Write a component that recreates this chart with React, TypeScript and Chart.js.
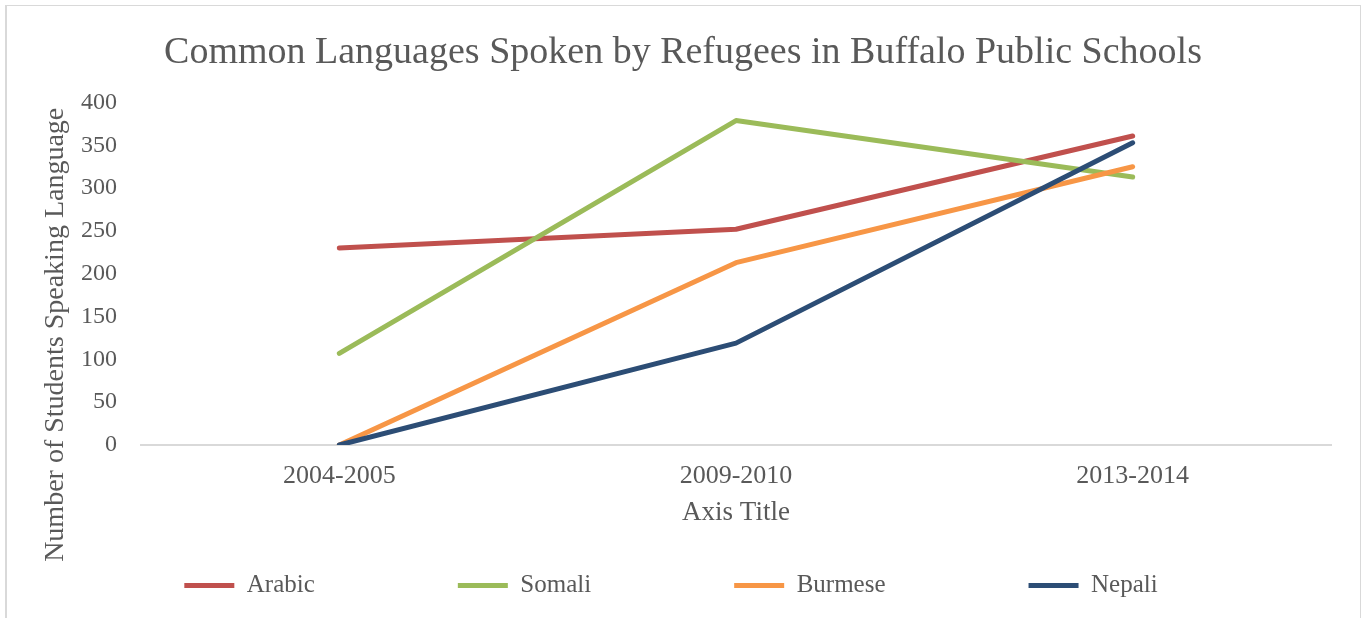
import React, { useEffect, useRef } from 'react';
import { Chart, registerables } from 'chart.js';

Chart.register(...registerables);

const categories = ['2004-2005', '2009-2010', '2013-2014'];
const arabic = [230, 252, 361];
const somali = [107, 379, 313];
const burmese = [0, 213, 325];
const nepali = [0, 119, 353];
const seriesNames = ['Arabic', 'Somali', 'Burmese', 'Nepali'];
const seriesValues = [arabic, somali, burmese, nepali];
const seriesColors = ['#C0504D', '#9BBB59', '#F79646', '#2C4D75'];
const yMin = 0;
const yMax = 400;
const yStep = 50;
const chartTitle = 'Common Languages Spoken by Refugees in Buffalo Public Schools';
const xTitle = 'Axis Title';
const yTitle = 'Number of Students Speaking Language';

const FONT = "'Liberation Serif', 'DejaVu Serif', serif";
const TEXT = '#595959';
const LEG_PAD = 143;
const LEG_H = 60;
const LEG_SHIFT = 128;
const Y_TITLE_EXTRA = 122;
const TITLE_DX = 14;

const layoutTweaks = {
  id: 'layoutTweaks',
  beforeLayout(chart: any) {
    const lg: any = chart.legend;
    if (lg && !lg.__patched) {
      lg.__patched = true;
      const fit = lg.fit.bind(lg);
      lg.fit = function () {
        fit();
        this.height = LEG_H;
      };
      const draw = lg.draw.bind(lg);
      lg.draw = function () {
        const t = this.top;
        const l = this.left;
        const r = this.right;
        this.top = t - LEG_SHIFT;
        this.left = l + 2;
        this.right = r + 2;
        draw();
        this.top = t;
        this.left = l;
        this.right = r;
      };
    }
    const tb: any = chart.titleBlock;
    if (tb && !tb.__patched) {
      tb.__patched = true;
      const draw = tb.draw.bind(tb);
      tb.draw = function () {
        const l = this.left;
        const r = this.right;
        this.left = l + TITLE_DX;
        this.right = r + TITLE_DX;
        draw();
        this.left = l;
        this.right = r;
      };
    }
  },
  afterLayout(chart: any) {
    const ys: any = chart.scales.y;
    if (ys && !ys.__patched) {
      ys.__patched = true;
      const dt = ys.drawTitle.bind(ys);
      ys.drawTitle = function () {
        const b = this.bottom;
        this.bottom = b + Y_TITLE_EXTRA;
        dt();
        this.bottom = b;
      };
    }
  },
};

export default function App() {
  const ref = useRef<HTMLCanvasElement | null>(null);

  useEffect(() => {
    if (!ref.current) return;
    const chart = new Chart(ref.current, {
      type: 'line',
      data: {
        labels: categories,
        datasets: seriesNames.map((name, i) => ({
          label: name,
          data: seriesValues[i],
          borderColor: seriesColors[i],
          backgroundColor: seriesColors[i],
          borderWidth: 5,
          borderCapStyle: 'round',
          borderJoinStyle: 'round',
          pointRadius: 0,
          pointHoverRadius: 0,
          tension: 0,
          fill: false,
          order: seriesNames.length - i,
        })),
      },
      options: {
        responsive: false,
        animation: false,
        layout: { padding: { left: 0, right: 29, top: 0, bottom: 0 } },
        plugins: {
          title: {
            display: true,
            text: chartTitle,
            color: TEXT,
            font: { family: FONT, size: 38, weight: 'normal' },
            padding: { top: 24, bottom: 27 },
          },
          legend: {
            display: true,
            position: 'bottom',
            labels: {
              color: TEXT,
              font: { family: FONT, size: 25 },
              usePointStyle: true,
              pointStyle: 'line',
              pointStyleWidth: 50,
              padding: LEG_PAD,
              sort: (a: any, b: any) => a.datasetIndex - b.datasetIndex,
            },
          },
          tooltip: { enabled: false },
        },
        scales: {
          x: {
            offset: true,
            grid: { display: false, drawTicks: false, offset: true },
            border: { display: true, color: '#d9d9d9', width: 2 },
            ticks: { color: TEXT, font: { family: FONT, size: 26 }, padding: 16 },
            title: {
              display: true,
              text: xTitle,
              color: TEXT,
              font: { family: FONT, size: 27 },
              padding: { top: 0, bottom: 29 },
            },
            afterFit: (s: any) => {
              s.height = 113;
            },
          },
          y: {
            min: yMin,
            max: yMax,
            grid: { display: false, drawTicks: false },
            border: { display: false },
            ticks: { stepSize: yStep, color: TEXT, font: { family: FONT, size: 24 }, padding: 24 },
            title: {
              display: true,
              text: yTitle,
              color: TEXT,
              font: { family: FONT, size: 28 },
              padding: { top: 32, bottom: 0 },
            },
            afterFit: (s: any) => {
              s.width = 134;
            },
          },
        },
      },
      plugins: [layoutTweaks],
    } as any);
    return () => chart.destroy();
  }, []);

  return (
    <div
      style={{
        position: 'absolute',
        left: 5,
        top: 5,
        width: 1356,
        height: 613,
        boxSizing: 'border-box',
        borderTop: '1px solid #d9d9d9',
        borderLeft: '2px solid #d9d9d9',
        borderRight: '1px solid #d9d9d9',
        background: '#fff',
      }}
    >
      <canvas ref={ref} width={1353} height={612} style={{ display: 'block', width: 1353, height: 612 }} />
    </div>
  );
}
